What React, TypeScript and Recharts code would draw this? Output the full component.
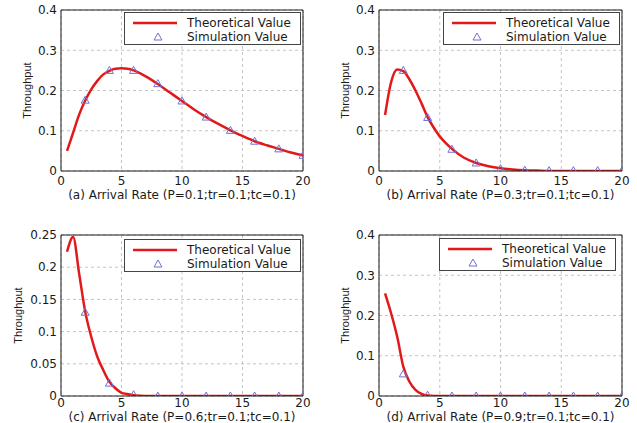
import React from 'react'
import {
  ComposedChart,
  Line,
  Scatter,
  XAxis,
  YAxis,
  CartesianGrid,
  ReferenceLine,
  Label,
} from 'recharts'

// arrival rates for the theoretical curves
const xTheory = [0.5, 1, 1.5, 2, 2.5, 3, 3.5, 4, 4.5, 5, 5.5, 6, 7, 8, 9, 10, 11, 12, 13, 14, 15, 16, 17, 18, 19, 20]
// arrival rates for the simulation points
const xSim = [2, 4, 6, 8, 10, 12, 14, 16, 18, 20]

const theoryA = [0.05, 0.095, 0.14, 0.175, 0.203, 0.224, 0.24, 0.249, 0.254, 0.255, 0.254, 0.25, 0.235, 0.216, 0.195, 0.174, 0.153, 0.134, 0.117, 0.101, 0.087, 0.074, 0.064, 0.055, 0.046, 0.039]
const simA = [0.176, 0.25, 0.25, 0.217, 0.174, 0.134, 0.101, 0.074, 0.055, 0.039]

const theoryB = [0.139, 0.221, 0.252, 0.248, 0.228, 0.2, 0.168, 0.134, 0.108, 0.086, 0.069, 0.055, 0.033, 0.02, 0.012, 0.007, 0.004, 0.002, 0.001, 0, 0, 0, 0, 0, 0, 0]
const simB = [0.25, 0.133, 0.054, 0.02, 0.006, 0.002, 0.001, 0.001, 0.001, 0.001]

const theoryC = [0.224, 0.247, 0.19, 0.131, 0.092, 0.061, 0.04, 0.022, 0.012, 0.005, 0.003, 0.001, 0, 0, 0, 0, 0, 0, 0, 0, 0, 0, 0, 0, 0, 0]
const simC = [0.13, 0.02, 0.002, 0, 0, 0, 0, 0, 0, 0]

const theoryD = [0.255, 0.205, 0.147, 0.073, 0.036, 0.015, 0.005, 0.001, 0, 0, 0, 0, 0, 0, 0, 0, 0, 0, 0, 0, 0, 0, 0, 0, 0, 0]
const simD = [0.055, 0.002, 0, 0, 0, 0, 0, 0, 0, 0]

const xTicks = [0, 5, 10, 15, 20]
const yTicksMain = [0, 0.1, 0.2, 0.3, 0.4]
const yTicksC = [0, 0.05, 0.1, 0.15, 0.2, 0.25]

const captions = [
  '(a) Arrival Rate (P=0.1;tr=0.1;tc=0.1)',
  '(b) Arrival Rate (P=0.3;tr=0.1;tc=0.1)',
  '(c) Arrival Rate (P=0.6;tr=0.1;tc=0.1)',
  '(d) Arrival Rate (P=0.9;tr=0.1;tc=0.1)',
]

const RED = '#e2191b'
const TRI = '#6f6fd8'
const INK = '#1a1a1a'
const FONT = '"DejaVu Sans", sans-serif'

const toPoints = (xs: number[], ys: number[]) => xs.map((x, i) => ({ x, y: ys[i] }))

const Triangle = (props: any) => {
  const { cx, cy } = props
  if (cx == null || cy == null) return null
  return (
    <path
      d={`M${cx},${cy - 4} L${cx + 4},${cy + 3} L${cx - 4},${cy + 3} Z`}
      fill="none"
      stroke={TRI}
      strokeWidth={1}
    />
  )
}

function LegendBox({ left, top }: { left: number; top: number }) {
  return (
    <svg
      width={177}
      height={33}
      style={{ position: 'absolute', left, top }}
    >
      <rect x={0.5} y={0.5} width={176} height={32} fill="#fff" stroke="#444" strokeWidth={1} />
      <line x1={9} x2={53} y1={11} y2={11} stroke={RED} strokeWidth={2.5} />
      <path d="M34,21 L38,28 L30,28 Z" fill="none" stroke={TRI} strokeWidth={1} />
      <text x={63} y={11} dominantBaseline="central" fontFamily={FONT} fontSize={12} fill={INK}>
        Theoretical Value
      </text>
      <text x={63} y={25} dominantBaseline="central" fontFamily={FONT} fontSize={12} fill={INK}>
        Simulation Value
      </text>
    </svg>
  )
}

interface PanelProps {
  left: number
  top: number
  width: number
  height: number
  margin: { top: number; right: number; bottom: number; left: number }
  theory: number[]
  sim: number[]
  yMax: number
  yTicks: number[]
  caption: string
  labelX: number
  tickGap: number
  captionOffset: number
  legendLeft: number
  legendTop: number
}

function Panel(p: PanelProps) {
  return (
    <div style={{ position: 'absolute', left: p.left, top: p.top, width: p.width, height: p.height }}>
      <ComposedChart width={p.width} height={p.height} margin={p.margin}>
        <CartesianGrid stroke="#c4c4c4" strokeDasharray="3 3" />
        <XAxis
          type="number"
          dataKey="x"
          domain={[0, 20]}
          ticks={xTicks}
          allowDataOverflow
          height={22}
          tickSize={0}
          tickLine={false}
          tickMargin={p.tickGap}
          axisLine={{ stroke: INK }}
          tick={{ fill: INK, fontSize: 12, fontFamily: FONT }}
        >
          <Label
            value={p.caption}
            position="insideBottom"
            offset={p.captionOffset}
            style={{ fill: INK, fontSize: 12, fontFamily: FONT }}
          />
        </XAxis>
        <YAxis
          type="number"
          domain={[0, p.yMax]}
          ticks={p.yTicks}
          allowDataOverflow
          width={40}
          tickSize={0}
          tickLine={false}
          tickMargin={4}
          axisLine={{ stroke: INK }}
          tick={{ fill: INK, fontSize: 12, fontFamily: FONT }}
        >
          <Label
            content={(props: any) => {
              const vb = props.viewBox || {}
              const cy = vb.y + vb.height / 2
              return (
                <text
                  x={p.labelX}
                  y={cy}
                  transform={`rotate(-90, ${p.labelX}, ${cy})`}
                  textAnchor="middle"
                  dominantBaseline="central"
                  fontFamily='"Liberation Sans", Arial, sans-serif'
                  fontSize={11}
                  fill={INK}
                >
                  Throughput
                </text>
              )
            }}
          />
        </YAxis>
        <ReferenceLine y={p.yMax} stroke={INK} />
        <ReferenceLine x={20} stroke={INK} />
        <Line
          data={toPoints(xTheory, p.theory)}
          dataKey="y"
          type="monotone"
          stroke={RED}
          strokeWidth={2.5}
          dot={false}
          activeDot={false}
          isAnimationActive={false}
        />
        <Scatter
          data={toPoints(xSim, p.sim)}
          dataKey="y"
          shape={Triangle}
          isAnimationActive={false}
        />
      </ComposedChart>
      <LegendBox left={p.legendLeft} top={p.legendTop} />
    </div>
  )
}

export default function App() {
  const topMargin = { top: 10, right: 15, bottom: 17, left: 21 }
  const bottomMargin = { top: 25, right: 15, bottom: 5, left: 21 }
  return (
    <div style={{ position: 'absolute', left: 0, top: 0, width: 637, height: 423, background: '#fff' }}>
      <Panel
        left={0} top={0} width={318} height={210} margin={topMargin}
        theory={theoryA} sim={simA} yMax={0.4} yTicks={yTicksMain}
        caption={captions[0]} labelX={27} tickGap={5} captionOffset={-6}
        legendLeft={124} legendTop={12}
      />
      <Panel
        left={318} top={0} width={319} height={210} margin={topMargin}
        theory={theoryB} sim={simB} yMax={0.4} yTicks={yTicksMain}
        caption={captions[1]} labelX={27} tickGap={5} captionOffset={-6}
        legendLeft={125} legendTop={12}
      />
      <Panel
        left={0} top={210} width={318} height={213} margin={bottomMargin}
        theory={theoryC} sim={simC} yMax={0.25} yTicks={yTicksC}
        caption={captions[2]} labelX={18} tickGap={2} captionOffset={-3}
        legendLeft={124} legendTop={29}
      />
      <Panel
        left={318} top={210} width={319} height={213} margin={bottomMargin}
        theory={theoryD} sim={simD} yMax={0.4} yTicks={yTicksMain}
        caption={captions[3]} labelX={27} tickGap={2} captionOffset={-3}
        legendLeft={121} legendTop={28}
      />
    </div>
  )
}
